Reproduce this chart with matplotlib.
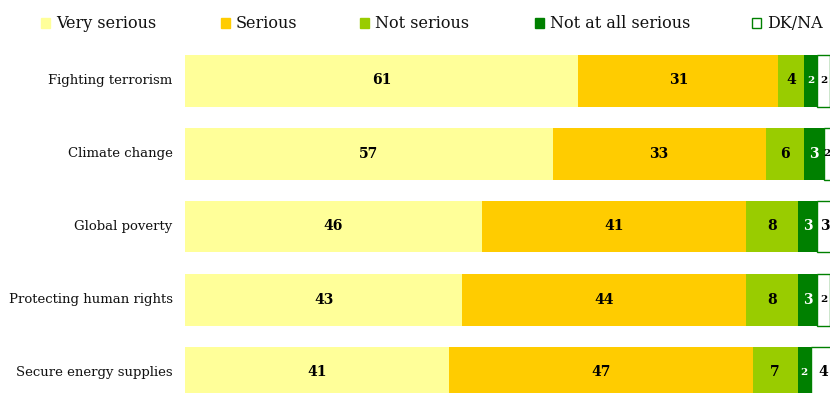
import matplotlib
matplotlib.use("Agg")
import matplotlib.pyplot as plt
from matplotlib.patches import Rectangle

categories = ["Fighting terrorism", "Climate change", "Global poverty",
              "Protecting human rights", "Secure energy supplies"]
series_names = ["Very serious", "Serious", "Not serious", "Not at all serious", "DK/NA"]
very_serious = [61, 57, 46, 43, 41]
serious = [31, 33, 41, 44, 47]
not_serious = [4, 6, 8, 8, 7]
not_at_all = [2, 3, 3, 3, 2]
dk_na = [2, 2, 3, 2, 4]

series = [very_serious, serious, not_serious, not_at_all, dk_na]
colors = ["#FFFF99", "#FFCC00", "#99CC00", "#008000", "#FFFFFF"]
edges = ["none", "none", "none", "none", "#008000"]
text_colors = ["black", "black", "black", "white", "black"]

FONT = "DejaVu Serif"
W, H = 830, 393
fig = plt.figure(figsize=(W / 100, H / 100), dpi=100)

left = 185 / W
right = 830 / W
top_px = 80.5 - 36.5
bot_px = 372.5 + 36.5
ax = fig.add_axes([left, (H - bot_px) / H, right - left, (bot_px - top_px) / H])
ax.set_xlim(0, 100)
ax.set_ylim(4.5, -0.5)
ax.axis("off")

ypos = list(range(len(categories)))
bar_h = 52 / 73
cum = [0] * len(categories)
for s, vals in enumerate(series):
    ax.barh(ypos, vals, left=cum, height=bar_h, color=colors[s],
            edgecolor=edges[s], linewidth=1.0 if edges[s] != "none" else 0,
            clip_on=False)
    for i, v in enumerate(vals):
        fs = 10 if v >= 3 else 7.5
        xc = cum[i] + v / 2
        if s == len(series) - 1:
            xc = min(xc, 99.2 if v >= 3 else 99.55)
        ax.text(xc, i, str(v), ha="center", va="center",
                fontsize=fs, fontweight="bold", color=text_colors[s], family=FONT)
    cum = [c + v for c, v in zip(cum, vals)]

for i, c in enumerate(categories):
    ax.text(-1.9, i, c, ha="right", va="center", fontsize=9.5, family=FONT,
            color="#111111")

leg_sq = [41, 221, 360, 535, 752]
for name, x, col, ec in zip(series_names, leg_sq, colors, edges):
    fig.patches.append(Rectangle((x / W, (H - 28) / H), 9 / W, 10 / H,
                                 transform=fig.transFigure,
                                 facecolor=col,
                                 edgecolor=(ec if ec != "none" else col),
                                 linewidth=1))
    fig.text((x + 15) / W, (H - 23) / H, name, ha="left", va="center",
             fontsize=11.5, family=FONT, color="#111111")

fig.savefig("out.png", dpi=100)
